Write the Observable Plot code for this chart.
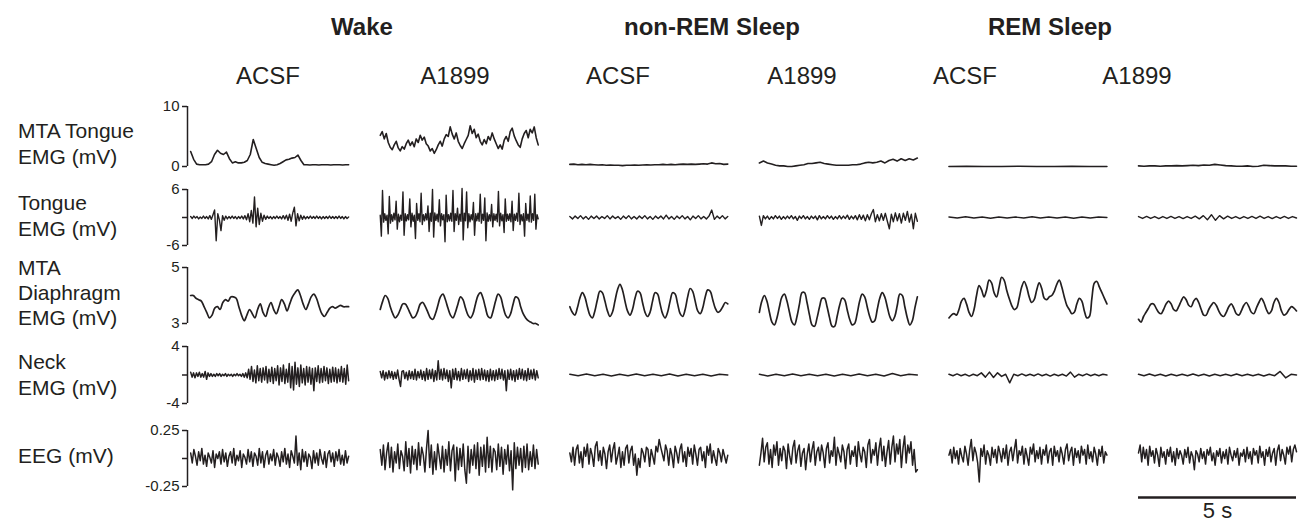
<!DOCTYPE html>
<html>
<head>
<meta charset="utf-8">
<script src="https://cdn.jsdelivr.net/npm/d3@7"></script>
<script src="https://cdn.jsdelivr.net/npm/@observablehq/plot@0.6"></script>
<style>
  body { margin: 0; background: #fff; }
  #root { position: relative; width: 1302px; height: 525px; font-family: "Liberation Sans", Arial, sans-serif; color: #231f20; overflow: hidden; }
  .t { position: absolute; transform: translate(-50%, -50%); white-space: nowrap; }
  .state { font-weight: bold; font-size: 24px; }
  .treat { font-size: 24px; }
  .rowlab { position: absolute; left: 18px; font-size: 21px; line-height: 26px; white-space: nowrap; }
  .row { position: absolute; left: 0; }
  .row svg { overflow: visible; }
</style>
</head>
<body>
<div id="root"></div>
<script>
// ---------- labels ----------
const states = ["Wake", "non-REM Sleep", "REM Sleep"];
const treatments = ["ACSF", "A1899", "ACSF", "A1899", "ACSF", "A1899"];
const rowNames = [["MTA Tongue", "EMG (mV)"], ["Tongue", "EMG (mV)"], ["MTA", "Diaphragm", "EMG (mV)"], ["Neck", "EMG (mV)"], ["EEG (mV)"]];
const ticksMTATongue = [0, 10];
const ticksTongue = [-6, 0, 6];
const ticksDiaphragm = [3, 5];
const ticksNeck = [-4, 0, 4];
const ticksEEG = [-0.25, 0, 0.25];
const traceSeconds = 5;      // each trace lasts 5 s
const columnStep = 6;        // s between trace starts (incl. gap)
const scaleBarSeconds = 5;

// ---------- Row 1: MTA Tongue EMG (mV) ----------
const mtaWakeACSF = [2.5,1.2,0.4,0.3,0.3,0.3,0.4,0.8,2.0,2.7, 2.2,2.0,2.4,1.3,0.6,0.8,0.6,0.6,0.7,1.0, 2.0,4.5,3.0,1.5,0.7,0.5,0.4,0.3,0.2,0.3, 0.5,0.8,1.1,1.2,1.4,1.5,1.9,1.0,0.3,0.3, 0.25,0.3,0.3,0.25,0.3,0.3,0.3,0.25,0.3,0.3, 0.3,0.25,0.3,0.3];
const mtaWakeA1899 = [5.2,5.8,4.6,5.5,4.0,3.2,2.8,3.6,4.2,3.1, 2.6,3.3,2.9,3.8,4.4,3.5,4.1,3.3,4.6,4.0, 5.2,4.4,4.9,3.8,3.4,2.6,3.0,2.2,2.8,3.6, 4.2,3.4,4.6,5.3,5.0,6.6,5.4,4.6,5.6,4.2, 3.5,3.0,3.8,4.5,5.2,6.8,5.5,6.2,4.8,5.4, 4.2,3.6,4.5,3.8,5.0,4.4,5.6,4.6,3.8,3.0, 3.6,2.9,4.4,5.0,4.2,5.8,6.4,5.1,4.3,3.6, 3.2,4.6,5.5,6.0,4.8,6.2,5.6,6.6,4.8,3.6];
const mtaNremACSF = [0.35,0.4,0.3,0.35,0.3,0.35,0.3,0.25,0.3,0.2, 0.25,0.2,0.2,0.15,0.2,0.2,0.25,0.2,0.25,0.3, 0.25,0.3,0.3,0.35,0.3,0.35,0.3,0.35,0.4,0.35, 0.4,0.35,0.4,0.45,0.4,0.6,0.45,0.5,0.35,0.4];
const mtaNremA1899 = [0.6,0.9,0.6,0.4,0.2,0.1,0.1,0.0,0.0,0.1, 0.2,0.3,0.5,0.5,0.6,0.7,0.5,0.4,0.3,0.2, 0.2,0.2,0.2,0.3,0.3,0.4,0.6,0.7,0.6,0.7, 0.9,0.6,1.0,1.2,0.9,1.3,1.0,1.3,1.1,1.4];
const mtaRemACSF = [0.0,0.05,0.0,0.0,0.05,0.0,0.0,0.05,0.0,0.0];
const mtaRemA1899 = [0.1,0.05,0.1,0.1,0.05,0.1,0.1,0.15,0.1,0.15, 0.2,0.15,0.25,0.2,0.35,0.25,0.15,0.1,0.05,0.05, 0.1,0.0,0.05,0.2,0.15,0.1,0.1,0.1,0.05,0.05];

// ---------- Row 2: Tongue EMG (mV) ----------
const tongueWakeACSF = [0.2,-0.2,0.3,-0.1,0.2,-0.3,0.1,-0.2,0.3,-0.2, 0.2,-0.3,0.4,-0.4,0.6,1.6,-5.0,0.8,-0.5,-2.8, 0.4,-0.6,0.3,-0.3,0.2,-0.2,0.3,-0.2,0.2,-0.3, 0.2,-0.2,0.3,-0.3,0.4,-0.5,0.8,-0.9,1.5,-1.2, 4.4,-2.0,2.0,-1.5,0.9,-0.8,0.5,-0.4,0.3,-0.2, 0.2,-0.3,0.2,-0.2,0.3,-0.2,0.2,-0.3,0.4,-0.3, 0.5,-0.6,0.7,-0.8,1.0,2.2,-1.8,0.8,-0.7,0.5, -0.4,0.3,-0.3,0.2,-0.2,0.3,-0.2,0.2,-0.2,0.3, -0.2,0.2,-0.3,0.2,-0.2,0.2,-0.2,0.3,-0.2,0.2, -0.2,0.2,-0.2,0.3,-0.2,0.2,-0.3,0.2,-0.2,0.1];
const tongueWakeA1899 = [0.5,-4.0,5.8,-1.0,0.8,-0.6,0.5,-3.5,4.5,-1.2, 0.6,-0.8,0.9,-0.5,3.5,-2.5,0.7,-0.9,0.5,-0.6, 5.5,-3.8,0.8,-0.7,0.6,-0.5,4.0,-2.0,0.9,-0.8, 0.5,-4.5,3.0,-0.6,0.8,-0.9,5.2,-1.5,0.6,-0.7, 0.8,-0.5,2.5,-3.0,0.9,-0.8,6.0,-4.2,1.0,-0.6, 0.7,-0.9,3.8,-1.8,0.8,-0.5,0.6,-5.2,4.8,-0.9, 0.6,-0.7,0.9,-0.8,5.8,-3.0,0.8,-0.6,2.0,-1.5, 0.7,-0.8,6.2,-4.8,0.9,-0.7,5.5,-2.2,0.8,-0.9, 0.6,-0.5,3.2,-3.8,0.8,-0.7,0.9,-0.8,5.0,-1.2, 0.7,-0.6,4.2,-5.0,1.0,-0.8,0.6,-0.7,2.8,-2.0, 0.8,-0.6,0.7,-0.9,5.6,-1.8,0.9,-0.7,0.6,-3.2, 4.0,-0.8,0.7,-0.6,0.8,-0.9,3.5,-2.8,0.7,-0.6, 0.9,-0.8,5.2,-1.5,0.6,-0.7,0.8,-4.0,3.0,-0.6, 0.7,-0.9,4.6,-1.0,0.8,-0.6,5.0,-2.5,0.6,-0.3];
const tongueNremACSF = [0.2,-0.3,0.3,-0.2,0.4,-0.3,0.2,-0.4,0.3,-0.2, 0.3,-0.3,0.2,-0.2,0.4,-0.3,0.3,-0.2,0.2,-0.4, 0.3,-0.2,0.4,-0.3,0.2,-0.3,0.3,-0.2,0.4,-0.3, 0.2,-0.4,0.3,-0.2,0.3,-0.3,0.5,-0.3,0.2,-0.4, 0.3,-0.2,0.4,-0.3,0.2,-0.5,0.3,-0.2,0.4,-0.3, 0.2,-0.3,0.3,1.6,-0.4,0.3,-0.2,0.4,-0.3,0.2];
const tongueNremA1899 = [0.3,-1.7,0.4,-0.3,0.3,-0.4,0.2,-0.3,0.4,-0.2, 0.3,-0.4,0.2,-0.3,0.3,-0.2,0.4,-0.3,0.2,-0.6, 0.3,-0.2,0.4,-0.3,0.2,-0.4,0.3,-0.2,0.3,-0.5, 0.4,-0.3,0.2,-0.3,0.4,-0.2,0.3,-0.4,0.2,-0.3, 0.4,-0.3,0.3,-0.2,0.5,-0.4,0.3,-0.3,0.4,-0.5, 0.6,-0.4,0.5,-0.7,0.6,-0.5,0.8,1.7,-0.9,0.6, -0.7,0.8,-0.6,0.9,-0.8,-2.4,0.7,-0.9,1.0,-0.7, 0.8,-1.2,0.9,-0.6,1.3,-1.0,0.7,-2.4,0.9,-0.8];
const tongueRemACSF = [0.1,-0.1,0.15,-0.1,0.1,-0.15,0.1,-0.1,0.1,-0.1, 0.15,-0.1,0.1,-0.1,0.1,-0.15,0.1,-0.1,0.1,0.0];
const tongueRemA1899 = [0.2,-0.2,0.25,-0.2,0.2,-0.25,0.2,-0.2,0.25,-0.2, 0.2,-0.25,0.2,-0.2,0.3,-0.3,0.4,-0.5,0.6,-0.6, 0.4,-0.3,0.3,-0.2,0.2,-0.25,0.2,-0.2,0.25,-0.2, 0.3,-0.2,0.2,-0.25,0.2,-0.2,0.25,-0.2,0.2,-0.1];

// ---------- Row 3: MTA Diaphragm EMG (mV) ----------
const diaWakeACSF = [4.0,4.0,3.9,3.85,3.8,3.6,3.4,3.2,3.3,3.55, 3.6,3.5,3.75,3.85,3.8,3.95,3.95,3.9,3.6,3.3, 3.1,3.3,3.5,3.35,3.2,3.5,3.7,3.4,3.25,3.55, 3.75,3.5,3.35,3.6,3.85,3.7,3.45,3.7,3.95,4.1, 4.2,4.0,3.7,3.5,3.7,3.95,4.05,3.9,3.6,3.35, 3.25,3.4,3.55,3.6,3.55,3.6,3.65,3.6,3.6,3.6];
const diaWakeA1899 = [3.5,3.8,4.0,3.9,3.6,3.35,3.2,3.3, 3.5,3.7,3.7,3.55,3.35,3.2,3.25,3.45, 3.7,3.75,3.6,3.4,3.2,3.15,3.35,3.65, 3.95,4.05,3.85,3.55,3.3,3.2,3.4,3.7, 3.95,3.85,3.55,3.3,3.2,3.35,3.7,4.0, 4.1,3.9,3.55,3.25,3.2,3.45,3.8,4.05, 3.95,3.6,3.3,3.2,3.35,3.7,3.95,3.9, 3.6,3.35,3.2,3.1,3.05,3.0,3.0,2.95];
const diaNremACSF = [3.6,3.4,3.3,3.55,3.9,4.1,3.95,3.6, 3.3,3.2,3.45,3.85,4.15,4.1,3.8,3.45, 3.25,3.4,3.8,4.2,4.4,4.2,3.8,3.45, 3.3,3.5,3.9,4.15,4.1,3.75,3.4,3.25, 3.4,3.8,4.1,4.05,3.7,3.35,3.2,3.4, 3.8,4.1,4.05,3.7,3.35,3.25,3.5,3.95, 4.25,4.15,3.8,3.45,3.35,3.55,3.95,4.2, 4.15,3.85,3.55,3.4,3.45,3.6,3.75,3.7];
const diaNremA1899 = [3.4,3.8,4.0,3.8,3.4,3.05,2.95,3.2, 3.6,3.95,4.05,3.8,3.4,3.05,2.95,3.25, 3.7,4.1,4.1,3.75,3.3,2.95,2.9,3.2, 3.6,3.9,3.9,3.6,3.2,2.9,2.9,3.25, 3.65,3.9,3.85,3.5,3.15,2.95,3.0,3.35, 3.8,4.05,3.95,3.6,3.25,3.05,3.1,3.5, 3.9,4.1,3.95,3.6,3.25,3.1,3.25,3.65, 4.05,4.0,3.6,3.2,2.95,3.1,3.55,3.95];
const diaRemACSF = [3.2,3.3,3.35,3.3,3.5,3.8,3.9,3.7,3.4,3.25, 3.5,4.0,4.35,4.2,3.95,4.2,4.55,4.45,4.1,3.95, 4.3,4.65,4.55,4.2,3.9,3.65,3.5,3.55,3.9,4.3, 4.5,4.3,3.95,3.75,3.85,4.2,4.45,4.25,3.9,3.85, 3.95,4.0,4.15,4.4,4.55,4.3,3.95,3.65,3.5,3.35, 3.4,3.7,3.9,3.8,3.45,3.2,3.25,3.9,4.45,4.5, 4.3,4.1,3.9,3.7];
const diaRemA1899 = [3.15,3.05,3.25,3.4,3.55,3.7,3.7,3.55,3.4,3.35, 3.5,3.7,3.8,3.7,3.5,3.45,3.6,3.8,3.95,3.85, 3.65,3.6,3.8,3.9,3.75,3.5,3.3,3.3,3.5,3.65, 3.75,3.65,3.45,3.3,3.25,3.4,3.6,3.7,3.55,3.35, 3.3,3.45,3.65,3.75,3.6,3.4,3.35,3.55,3.75,3.9, 3.75,3.5,3.35,3.45,3.75,3.9,3.75,3.45,3.3,3.35, 3.5,3.6,3.55,3.45];

// ---------- Row 4: Neck EMG (mV) ----------
const neckWakeACSF = [0.4,-0.3,0.3,-0.4,0.3,-0.2,0.4,-0.3,0.2,-0.3, 0.5,-0.6,0.3,-0.2,0.2,-0.2,0.1,-0.2,0.2,-0.1, 0.2,-0.2,0.1,-0.1,0.2,-0.2,0.1,-0.1,0.1,-0.2, 0.1,-0.1,0.2,-0.1,0.1,-0.2,0.2,-0.3,0.3,-0.4, 0.8,-0.6,1.2,-0.9,0.7,-1.1,1.3,-0.8,0.9,-1.0, 1.0,-0.7,1.2,-1.1,0.8,-0.9,1.1,-1.2,0.9,-0.8, 1.3,-1.4,1.0,-0.9,1.4,-1.2,0.8,-1.0,1.6,-1.8, 1.2,-2.1,1.8,-1.3,1.0,-1.6,1.4,-1.1,0.9,-1.4, 1.2,-1.0,1.1,-1.3,0.9,-2.2,1.0,-0.9,1.3,-1.1, 0.9,-1.0,1.2,-0.8,1.0,-1.2,0.8,-1.0,1.1,-0.9, 1.0,-1.1,0.8,-0.9,1.2,-1.0,0.9,-1.3,1.4,-0.8];
const neckWakeA1899 = [0.5,-0.4,0.6,-0.7,0.4,-0.5,0.6,-0.4,0.5,-0.6, 0.4,-0.5,0.7,-0.6,-1.6,0.5,0.6,-0.5,0.4,-0.7, 0.6,-0.5,0.5,-0.6,0.8,-0.7,0.5,-0.4,0.7,-0.6, 0.5,-0.8,0.9,-0.6,0.7,-0.5,0.8,-0.9,0.6,-0.7, 2.0,-0.6,0.8,-0.7,0.9,-0.5,0.7,-0.9,0.6,-1.8, 0.8,-0.6,0.9,-0.7,0.5,-0.8,0.9,-0.6,0.7,-0.5, 0.8,-0.9,0.6,-0.7,0.9,-1.0,0.7,-0.6,0.8,-0.7, 0.9,-0.6,0.7,-0.8,0.6,-0.9,0.8,-0.7,0.6,-0.8, 0.7,-0.6,0.9,-0.5,0.8,-0.7,0.6,-2.2,0.7,-0.6, 0.8,-0.7,0.6,-0.9,0.7,-0.6,0.9,-0.5,0.8,-0.7, 0.6,-0.8,0.9,-0.6,0.7,-0.5,0.8,-0.7,0.6,-0.4];
const neckNremACSF = [0.1,-0.1,0.15,-0.1,0.1,-0.15,0.1,-0.1,0.15,-0.1, 0.1,-0.1,0.15,-0.15,0.1,-0.1,0.1,-0.15,0.1,0.0];
const neckNremA1899 = [0.1,-0.15,0.1,-0.1,0.15,-0.1,0.1,-0.1,0.1,-0.15, 0.1,-0.1,0.15,-0.1,0.1,-0.15,0.2,-0.1,0.1,0.0];
const neckRemACSF = [0.1,-0.1,0.15,-0.1,0.1,-0.15,0.1,-0.1,0.3,-0.3, 0.4,-0.35,0.3,-0.2,0.1,-1.1,0.1,-0.1,0.15,-0.1, 0.1,-0.1,0.15,-0.1,0.1,-0.15,0.1,-0.1,0.1,-0.15, 0.4,-0.3,0.1,-0.1,0.15,-0.1,0.1,-0.1,0.1,0.0];
const neckRemA1899 = [0.1,-0.1,0.15,-0.1,0.1,-0.15,0.1,-0.1,0.1,-0.1, 0.15,-0.1,0.1,-0.15,0.1,-0.1,0.1,-0.1,0.15,-0.1, 0.1,-0.1,0.1,-0.15,0.1,-0.1,0.5,-0.4,0.1,0.0];

// ---------- Row 5: EEG (mV) ----------
const eegWakeACSF = [0.05,-0.04,0.08,0.02,-0.06,0.06,-0.02,0.09,-0.05,0.03, -0.07,0.05,0.01,-0.04,0.07,-0.08,0.04,0.0,0.06,-0.05, 0.08,-0.03,0.05,-0.07,0.02,0.06,-0.04,0.09,-0.06,0.03, -0.02,0.07,-0.08,0.04,0.01,-0.05,0.08,-0.03,0.06,-0.07, 0.05,0.02,-0.06,0.09,-0.04,0.06,-0.08,0.03,0.07,-0.05, 0.04,-0.02,0.08,-0.06,0.05,0.01,-0.07,0.06,-0.03,0.09, -0.05,0.04,-0.08,0.07,0.02,-0.04,0.2,-0.06,0.05,-0.1, 0.08,-0.03,0.06,-0.07,0.04,0.01,-0.09,0.07,-0.04,0.05, -0.06,0.08,0.0,-0.05,0.06,-0.08,0.04,0.07,-0.03,0.05, -0.07,0.06,-0.02,0.08,-0.05,0.03,-0.06,0.07,-0.04,0.02];
const eegWakeA1899 = [0.08,-0.06,0.12,-0.1,0.05,0.14,-0.08,0.1,-0.12,0.06, -0.04,0.13,-0.09,0.07,0.02,-0.11,0.15,-0.07,0.09,-0.13, 0.11,-0.05,0.08,-0.1,0.14,-0.06,0.1,0.03,-0.12,0.09, 0.25,-0.08,0.12,-0.14,0.06,-0.1,0.13,0.02,-0.09,0.11, -0.12,0.08,-0.06,0.15,-0.11,0.07,0.12,-0.2,0.1,-0.1, 0.09,-0.07,0.13,-0.1,-0.22,0.11,-0.13,0.08,-0.06,0.12, -0.09,0.14,-0.15,0.1,-0.07,0.12,-0.12,0.19,-0.08,0.11, -0.12,0.09,0.06,-0.1,0.13,-0.07,0.1,-0.14,0.08,-0.05, 0.12,-0.11,0.07,-0.28,0.14,-0.09,0.1,-0.06,0.09,-0.12, 0.11,-0.08,0.13,-0.1,0.06,-0.07,0.12,-0.09,0.08,-0.05];
const eegNremACSF = [0.05,-0.03,0.1,-0.06,0.08,0.12,-0.04,0.06,-0.08,0.1, 0.02,0.13,-0.05,0.09,0.03,-0.07,0.11,0.15,-0.02,0.07, -0.06,0.1,0.04,-0.09,0.06,0.12,-0.03,0.08,0.14,-0.05, 0.02,0.1,-0.08,0.06,-0.06,0.09,0.12,-0.04,0.07,0.11, -0.06,0.04,-0.15,0.0,-0.08,0.09,0.05,-0.03,0.1,0.08, -0.07,0.08,0.02,-0.05,0.11,0.06,0.17,0.1,0.04,-0.02, 0.12,0.07,-0.06,0.09,0.03,-0.08,0.11,0.05,-0.04,0.08, 0.13,-0.03,0.06,-0.07,0.1,0.02,0.09,-0.05,0.12,0.04, -0.06,0.08,0.1,-0.02,0.06,-0.08,0.11,0.03,0.13,-0.04, 0.07,0.0,-0.06,0.09,0.05,-0.03,0.08,0.02,-0.04,0.03];
const eegNremA1899 = [-0.06,0.05,0.18,-0.03,0.1,0.14,-0.05,0.08,-0.08,0.12, 0.03,0.15,-0.06,0.09,-0.02,0.11,0.07,-0.09,0.13,0.02, -0.05,0.1,0.16,-0.04,0.07,0.12,-0.07,0.05,0.09,-0.1, 0.04,0.13,-0.03,0.08,0.15,-0.06,0.06,0.1,-0.02,0.12, 0.05,-0.08,0.09,0.14,-0.04,0.07,0.02,0.19,-0.06,0.1, 0.04,-0.03,0.12,0.06,-0.09,0.08,0.13,-0.05,0.07,0.02, 0.11,-0.07,0.15,0.04,-0.03,0.1,0.06,-0.08,0.12,0.17, -0.04,0.08,0.03,0.14,-0.06,0.09,0.18,-0.02,0.11,-0.07, 0.06,0.16,-0.05,0.1,0.2,-0.03,0.13,0.04,0.17,-0.08, 0.09,0.2,-0.04,0.12,0.05,0.15,-0.06,0.08,-0.12,-0.1];
const eegRemACSF = [0.03,0.08,-0.04,0.1,0.0,0.07,-0.05,0.09,0.02,-0.03, 0.11,0.04,-0.06,0.08,0.17,-0.02,0.1,0.05,-0.04,-0.21, 0.09,0.02,0.12,-0.05,0.07,0.03,-0.06,0.1,0.01,0.08, -0.04,0.11,0.05,-0.03,0.09,0.0,0.12,-0.06,0.06,0.1, -0.02,0.08,0.17,-0.04,0.07,0.03,0.11,-0.05,0.09,0.02, -0.06,0.1,0.04,0.13,-0.03,0.07,0.0,0.1,-0.05,0.08, 0.03,0.12,-0.04,0.06,0.09,-0.06,0.11,0.02,0.07,-0.03, 0.1,0.04,-0.05,0.08,0.13,-0.02,0.06,0.1,-0.06,0.09, 0.01,0.07,-0.04,0.11,0.03,0.08,-0.05,0.12,0.0,0.06, -0.03,0.1,0.04,-0.06,0.08,0.02,0.11,-0.04,0.06,0.03];
const eegRemA1899 = [0.05,0.12,-0.03,0.1,0.0,0.08,-0.06,0.11,0.02,0.07, -0.04,0.09,0.03,-0.07,0.1,0.01,0.06,-0.05,0.08,0.02, 0.1,-0.03,0.06,-0.06,0.09,0.0,0.07,0.03,-0.05,0.08, 0.01,0.1,-0.04,0.06,0.02,-0.1,0.07,0.04,-0.03,0.09, 0.0,0.06,-0.05,0.08,0.03,0.1,-0.02,0.05,-0.06,0.07, 0.02,0.09,-0.04,0.06,0.0,0.08,-0.05,0.1,0.03,-0.02, 0.07,0.01,0.09,-0.06,0.05,0.02,0.08,-0.03,0.1,0.0, 0.06,-0.05,0.09,0.03,0.07,-0.04,0.11,0.01,0.06,-0.06, 0.08,0.02,0.1,-0.03,0.05,0.09,-0.06,0.07,0.12,-0.02, 0.08,0.03,-0.05,0.1,0.04,0.11,-0.03,0.08,0.12,0.06];

// ---------- layout ----------
const ink = "#231f20";
const root = document.getElementById("root");
function addText(cls, text, x, y) {
  const d = document.createElement("div");
  d.className = "t " + cls;
  d.textContent = text;
  d.style.left = x + "px";
  d.style.top = y + "px";
  root.appendChild(d);
}
const stateX = [362, 712, 1050];
states.forEach((s, i) => addText("state", s, stateX[i], 27));
const treatX = [268, 455, 618, 802, 965, 1137];
treatments.forEach((s, i) => addText("treat", s, treatX[i], 76));

const rowLabelTop = [118, 190, 255, 349, 443];
const rowLabelLH = [26, 26, 25, 26, 26];
rowNames.forEach((lines, i) => {
  const d = document.createElement("div");
  d.className = "rowlab";
  d.style.top = rowLabelTop[i] + "px";
  d.style.lineHeight = rowLabelLH[i] + "px";
  d.innerHTML = lines.join("<br>");
  root.appendChild(d);
});

function toRows(seriesList) {
  const out = [];
  seriesList.forEach((vals, k) => {
    vals.forEach((v, i) => out.push({col: k, t: columnStep * k + i * traceSeconds / (vals.length - 1), v}));
  });
  return out;
}

const rowsCfg = [
  {series: [mtaWakeACSF, mtaWakeA1899, mtaNremACSF, mtaNremA1899, mtaRemACSF, mtaRemA1899], domain: [0, 10], ticks: ticksMTATongue, top: 94, span: 60, mb: 12, curve: "linear", sw: 1.6},
  {series: [tongueWakeACSF, tongueWakeA1899, tongueNremACSF, tongueNremA1899, tongueRemACSF, tongueRemA1899], domain: [-6, 6], ticks: ticksTongue, top: 177, span: 56, mb: 12, curve: "linear", sw: 1.4},
  {series: [diaWakeACSF, diaWakeA1899, diaNremACSF, diaNremA1899, diaRemACSF, diaRemA1899], domain: [3, 5], ticks: ticksDiaphragm, top: 255, span: 56, mb: 12, curve: "catmull-rom", sw: 1.7},
  {series: [neckWakeACSF, neckWakeA1899, neckNremACSF, neckNremA1899, neckRemACSF, neckRemA1899], domain: [-4, 4], ticks: ticksNeck, top: 334, span: 57, mb: 12, curve: "linear", sw: 1.5},
  {series: [eegWakeACSF, eegWakeA1899, eegNremACSF, eegNremA1899, eegRemACSF, eegRemA1899], domain: [-0.25, 0.25], ticks: ticksEEG, top: 418, span: 56, mb: 40, curve: "linear", sw: 1.5, scaleBar: true}
];

const mt = 12;
const xDomain = [-0.1, columnStep * 5 + traceSeconds];
rowsCfg.forEach((cfg) => {
  const marks = [
    Plot.ruleX([xDomain[0]], {y1: cfg.domain[0], y2: cfg.domain[1], stroke: ink, strokeWidth: 1.5}),
    Plot.axisY(cfg.ticks, {anchor: "left", tickSize: 5, tickPadding: 3, fontSize: 15, stroke: ink, strokeWidth: 1.5, fill: ink, label: null,
      tickFormat: (d) => (d === 0 && cfg.ticks.length === 3) ? "" : String(d)}),
    Plot.line(toRows(cfg.series), {x: "t", y: "v", z: "col", stroke: ink, strokeWidth: cfg.sw, strokeLinejoin: "round", curve: cfg.curve})
  ];
  if (cfg.scaleBar) {
    const barStart = columnStep * 5;
    const barY = cfg.domain[0] - 0.098;
    marks.push(Plot.ruleY([barY], {x1: barStart, x2: barStart + scaleBarSeconds, stroke: ink, strokeWidth: 2.5}));
    marks.push(Plot.text([`${scaleBarSeconds} s`], {x: barStart + scaleBarSeconds / 2, y: barY, dy: 13, fontSize: 22, fill: ink, fontFamily: "Liberation Sans, Arial, sans-serif"}));
  }
  const p = Plot.plot({
    width: 1302,
    height: mt + cfg.span + cfg.mb,
    marginLeft: 187,
    marginRight: 6,
    marginTop: mt,
    marginBottom: cfg.mb,
    x: {domain: xDomain, axis: null},
    y: {domain: cfg.domain, axis: null},
    style: {background: "transparent", overflow: "visible", fontFamily: "Liberation Sans, Arial, sans-serif", color: ink},
    marks
  });
  const wrap = document.createElement("div");
  wrap.className = "row";
  wrap.style.top = (cfg.top) + "px";
  wrap.appendChild(p);
  root.appendChild(wrap);
});
</script>
</body>
</html>
